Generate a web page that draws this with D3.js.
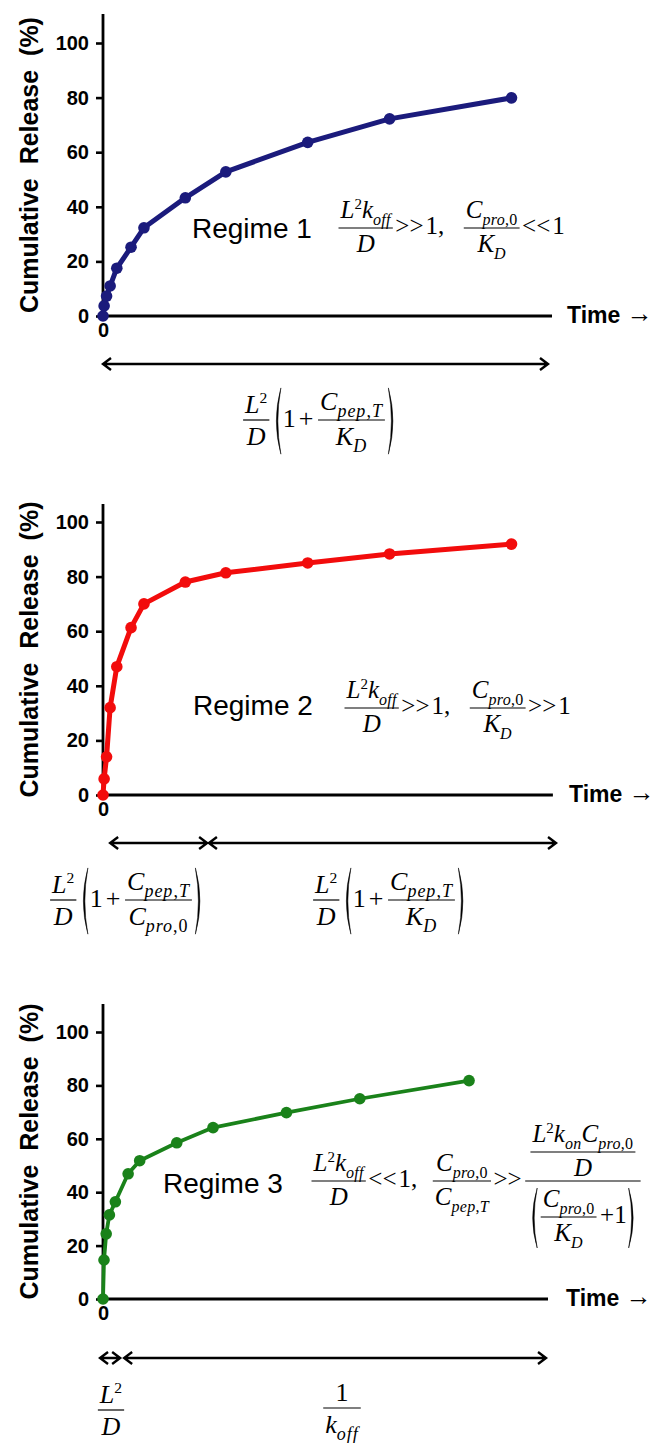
<!DOCTYPE html>
<html><head><meta charset="utf-8">
<script src="https://cdn.jsdelivr.net/npm/d3@7"></script>
<style>body{margin:0;background:#fff}svg{display:block}</style>
</head><body>
<svg id="c" width="656" height="1443"></svg>
<script>
// ---------------- DATA ----------------
const times   = [0, 0.25, 0.8, 1.6, 3.1, 6.3, 9.2, 18.5, 27.6, 46, 64.4, 91.8];
const regime1 = [0, 3.7, 7.3, 11, 17.5, 25.2, 32.3, 43.3, 52.8, 63.6, 72.2, 79.9];
const regime2 = [0, 5.9, 14, 32, 47, 61.3, 70, 78, 81.4, 85, 88.3, 91.9];
const regime3 = [0, 14.6, 24.4, 31.5, 36.4, 46.9, 51.8, 58.5, 64.2, 69.8, 75, 81.8];
const yTicks = [0, 20, 40, 60, 80, 100];
const xTicks = [0];
const yLabel = "Cumulative  Release  (%)";
const xLabel = "Time";
const regimeNames = ["Regime 1", "Regime 2", "Regime 3"];
// time-interval arrows (in time units) for each panel
const intervals1 = [[0, 100]];
const intervals2 = [[1.6, 23.4], [23.8, 101.8]];
const intervals3 = [[-0.75, 4.3], [5.3, 111.1]];

// ---------------- STYLE / LAYOUT ----------------
const panels = [
  {data: regime1, color: "#1b1b7c", xDomain: [0, 100], xEnd: 100.9, yRange: [316, 43], yTop: 110.6,
   lw: 5, r: 5.8, timeX: 567, arrows: intervals1, arrowDy: 48},
  {data: regime2, color: "#f20c0c", xDomain: [0, 100], xEnd: 101.1, yRange: [795, 522], yTop: 106.6,
   lw: 5, r: 5.8, timeX: 569, arrows: intervals2, arrowDy: 48},
  {data: regime3, color: "#1a821a", xDomain: [0, 111.6], xEnd: 111.6, yRange: [1299, 1032], yTop: 110.5,
   lw: 3.8, r: 5.8, timeX: 566, arrows: intervals3, arrowDy: 59}
];
const X0 = 103, X100 = 548;
const SANS = "'Liberation Sans',Arial,Helvetica,sans-serif";
const MF = "'Liberation Serif','Times New Roman',Times,serif";

const svg = d3.select("#c");
const scratch = svg.append("g");

panels.forEach((p, i) => {
  const x = d3.scaleLinear().domain(p.xDomain).range([X0, X100]);
  const y = d3.scaleLinear().domain([0, 100]).range(p.yRange);
  const g = svg.append("g");

  const ya = g.append("g").attr("transform", `translate(${X0},0)`)
    .call(d3.axisLeft(y).tickValues(yTicks).tickSize(7).tickPadding(7));
  ya.select(".domain").remove();
  ya.selectAll(".tick line").attr("stroke", "#000").attr("stroke-width", 2.6);
  ya.selectAll(".tick text").attr("font-family", SANS).attr("font-size", 20)
    .attr("font-weight", "bold").attr("fill", "#000");
  g.append("line").attr("x1", X0).attr("x2", X0).attr("y1", y(-1.5)).attr("y2", y(p.yTop))
    .attr("stroke", "#000").attr("stroke-width", 2.8);

  const xa = g.append("g").attr("transform", `translate(0,${y(0)})`)
    .call(d3.axisBottom(x).tickValues(xTicks).tickSize(4).tickPadding(3).tickFormat(d3.format("d")));
  xa.select(".domain").remove();
  xa.selectAll(".tick line").attr("stroke", "#000").attr("stroke-width", 2.6);
  xa.selectAll(".tick text").attr("font-family", SANS).attr("font-size", 20)
    .attr("font-weight", "bold").attr("fill", "#000");
  g.append("line").attr("x1", x(0)).attr("x2", x(p.xEnd)).attr("y1", y(0)).attr("y2", y(0))
    .attr("stroke", "#000").attr("stroke-width", 2.8);

  g.append("text")
    .attr("transform", `translate(38,${(y(0) + y(p.yTop)) / 2}) rotate(-90)`)
    .attr("text-anchor", "middle").style("white-space", "pre")
    .attr("font-family", SANS).attr("font-size", 25).attr("font-weight", "bold").attr("fill", "#000")
    .text(yLabel);
  const tt = g.append("text").attr("x", p.timeX).attr("y", y(0) + 7).attr("fill", "#000")
    .style("white-space", "pre");
  tt.append("tspan").attr("font-family", SANS).attr("font-size", 23).attr("font-weight", "bold").text(xLabel);
  tt.append("tspan").attr("font-family", MF).attr("font-size", 26).attr("dy", -1).text(" \u2192");

  const pts = times.map((t, k) => [t, p.data[k]]);
  g.append("path").datum(pts)
    .attr("d", d3.line().x(d => x(d[0])).y(d => y(d[1])))
    .attr("fill", "none").attr("stroke", p.color).attr("stroke-width", p.lw)
    .attr("stroke-linejoin", "round").attr("stroke-linecap", "round");
  g.selectAll("circle.pt").data(pts).join("circle").attr("class", "pt")
    .attr("cx", d => x(d[0])).attr("cy", d => y(d[1])).attr("r", p.r).attr("fill", p.color);

  const ay = y(0) + p.arrowDy;
  p.arrows.forEach(([a, b]) => {
    const xa1 = x(a), xb1 = x(b);
    g.append("path")
      .attr("d", `M${xa1},${ay}H${xb1}M${xa1 + 8},${ay - 6}L${xa1},${ay}L${xa1 + 8},${ay + 6}M${xb1 - 8},${ay - 6}L${xb1},${ay}L${xb1 - 8},${ay + 6}`)
      .attr("fill", "none").attr("stroke", "#000").attr("stroke-width", 2.4);
  });
});

// ---------------- tiny math layout ----------------
function parse(s) {
  const out = []; let i = 0;
  while (i < s.length) {
    if ((s[i] === "_" || s[i] === "^") && s[i + 1] === "{") {
      const j = s.indexOf("}", i);
      out.push({t: s.slice(i + 2, j), mode: s[i] === "_" ? 1 : 2}); i = j + 1;
    } else {
      let j = i;
      while (j < s.length && !((s[j] === "_" || s[j] === "^") && s[j + 1] === "{")) j++;
      out.push({t: s.slice(i, j), mode: 0}); i = j;
    }
  }
  return out;
}
function makeMath(fs, sfs, ls) {
  const AX = 0.25 * fs;
  function txt(s) {
    const el = scratch.append("text").attr("font-family", MF).attr("font-size", fs).attr("fill", "#000")
      .style("white-space", "pre");
    let sub = false, sup = false;
    parse(s).forEach(p => {
      if (p.mode === 1) sub = true;
      if (p.mode === 2) sup = true;
      (p.t.match(/[A-Za-z]+|[^A-Za-z]+/g) || []).forEach(r => {
        const ts = el.append("tspan").text(r)
          .attr("y", p.mode === 1 ? 0.27 * fs : p.mode === 2 ? -0.36 * fs : 0)
          .attr("font-style", /[A-Za-z]/.test(r) ? "italic" : "normal");
        if (p.mode === 1) { ts.attr("font-size", sfs); if (ls) ts.attr("letter-spacing", ls); }
        if (p.mode === 2) ts.attr("font-size", 0.6 * fs);
      });
    });
    const node = el.node();
    const w = node.getComputedTextLength();
    return {w, a: sup ? 0.36 * fs + 0.42 * fs : 0.68 * fs, d: sub ? 0.2 * fs : 0.08 * fs,
      draw(g, x, b) { g.node().appendChild(node); el.attr("transform", `translate(${x},${b})`); }};
  }
  function sp(w) { return {w, a: 0, d: 0, draw() {}}; }
  function row(...items) {
    return {w: d3.sum(items, d => d.w), a: d3.max(items, d => d.a), d: d3.max(items, d => d.d),
      draw(g, x, b) { let cx = x; items.forEach(it => { it.draw(g, cx, b); cx += it.w; }); }};
  }
  function frac(num, den, o = {}) {
    const gN = o.gN ?? 0.2 * fs, gD = o.gD ?? 0.28 * fs, pad = o.pad ?? 2, m = 1.5;
    const bw = Math.max(num.w, den.w) + 2 * pad;
    return {w: bw + 2 * m, a: AX + gN + num.d + num.a, d: -AX + gD + den.a + den.d,
      draw(g, x, b) {
        const ay = b - AX;
        g.append("line").attr("x1", x + m).attr("x2", x + m + bw).attr("y1", ay).attr("y2", ay)
          .attr("stroke", "#000").attr("stroke-width", 1.2);
        num.draw(g, x + m + (bw - num.w) / 2, ay - gN - num.d);
        den.draw(g, x + m + (bw - den.w) / 2, ay + gD + den.a);
      }};
  }
  function paren(inner, ext = 4) {
    const pw = 12, a = inner.a + ext, d = inner.d + ext;
    return {w: inner.w + 2 * pw, a, d,
      draw(g, x, b) {
        const top = b - a, bot = b + d, mid = (top + bot) / 2;
        g.append("path").attr("d",
          `M${x + pw - 2},${top}Q${x + 1},${mid} ${x + pw - 2},${bot}Q${x + 4},${mid} ${x + pw - 2},${top}Z`)
          .attr("fill", "#000").attr("stroke", "#000").attr("stroke-width", 0.5);
        inner.draw(g, x + pw, b);
        const rx = x + pw + inner.w;
        g.append("path").attr("d",
          `M${rx + 2},${top}Q${rx + pw - 1},${mid} ${rx + 2},${bot}Q${rx + pw - 4},${mid} ${rx + 2},${top}Z`)
          .attr("fill", "#000").attr("stroke", "#000").attr("stroke-width", 0.5);
      }};
  }
  function place(box, x, barY, anchor = "start") {
    const g = svg.append("g");
    const left = anchor === "middle" ? x - box.w / 2 : x;
    box.draw(g, left, barY + AX);
  }
  return {txt, sp, row, frac, paren, place};
}

// Regime labels
const regimePos = [[192, 238], [193, 715], [163, 1193]];
regimeNames.forEach((n, i) => {
  svg.append("text").attr("x", regimePos[i][0]).attr("y", regimePos[i][1])
    .attr("font-family", SANS).attr("font-size", 28).attr("fill", "#000").text(n);
});

// conditions (regime equations)
{
  const {txt, sp, row, frac, paren, place} = makeMath(25, 16, 0.3);
  place(row(frac(txt("L^{2}k_{off}"), txt("D")), sp(1), txt(">>"), sp(2), txt("1,"), sp(18),
            frac(txt("C_{pro,0}"), txt("K_{D}")), sp(1), txt("<<"), sp(2), txt("1")), 337, 228);
  place(row(frac(txt("L^{2}k_{off}"), txt("D")), sp(1), txt(">>"), sp(2), txt("1,"), sp(18),
            frac(txt("C_{pro,0}"), txt("K_{D}")), sp(1), txt(">>"), sp(2), txt("1")), 343, 708);
  place(row(frac(txt("L^{2}k_{off}"), txt("D")), sp(1), txt("<<"), sp(2), txt("1,"), sp(14),
            frac(txt("C_{pro,0}"), txt("C_{pep,T}")), sp(1), txt(">>"), sp(2),
            frac(frac(txt("L^{2}k_{on}C_{pro,0}"), txt("D")),
                 paren(row(frac(txt("C_{pro,0}"), txt("K_{D}")), sp(2), txt("+1")), 2), {gN: 3})), 310, 1181);
}
// time-scale formulas
{
  const {txt, sp, row, frac, paren, place} = makeMath(26, 18, 1);
  const L2D = () => frac(txt("L^{2}"), txt("D"));
  const onePlus = () => row(txt("1"), sp(3), txt("+"), sp(3));
  place(row(L2D(), paren(row(onePlus(), frac(txt("C_{pep,T}"), txt("K_{D}"))))), 320, 420, "middle");
  place(row(L2D(), paren(row(onePlus(), frac(txt("C_{pep,T}"), txt("C_{pro,0}"))))), 127, 900, "middle");
  place(row(L2D(), paren(row(onePlus(), frac(txt("C_{pep,T}"), txt("K_{D}"))))), 390, 900, "middle");
  place(frac(txt("L^{2}"), txt("D")), 111, 1410, "middle");
  place(frac(txt("1"), txt("k_{off}")), 342, 1408, "middle");
}
</script>
</body></html>
